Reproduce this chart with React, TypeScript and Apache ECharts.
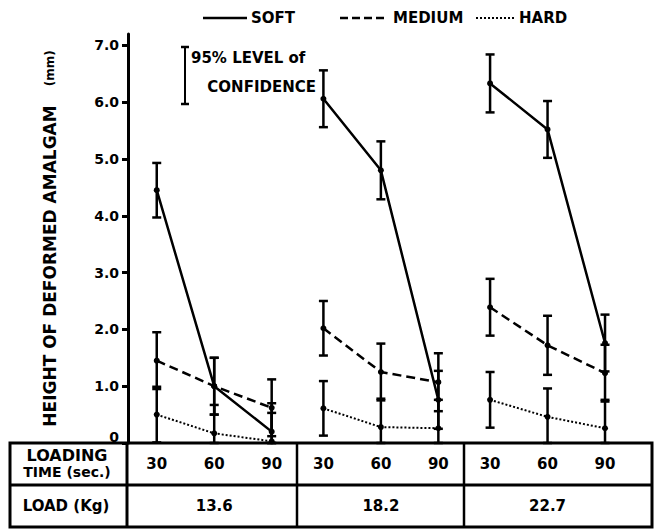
import React, { useEffect, useRef } from "react";
import * as echarts from "echarts";

// ---- data ----
const LOADS = ["13.6", "18.2", "22.7"];
const TIMES = [30, 60, 90];
const Y_TICKS = [0, 1, 2, 3, 4, 5, 6, 7];

// mean height (mm), ordered 13.6:30,60,90 | 18.2:30,60,90 | 22.7:30,60,90
const SOFT = [4.45, 1.0, 0.2, 6.06, 4.8, 0.76, 6.33, 5.52, 1.76];
const MEDIUM = [1.45, 1.0, 0.62, 2.02, 1.25, 1.07, 2.39, 1.72, 1.23];
const HARD = [0.5, 0.17, 0.03, 0.61, 0.28, 0.26, 0.76, 0.46, 0.26];

// half-width of 95% confidence interval (mm)
const SOFT_CI = [0.48, 0.5, 0.5, 0.5, 0.51, 0.51, 0.51, 0.5, 0.5];
const MEDIUM_CI = [0.5, 0.5, 0.5, 0.48, 0.5, 0.51, 0.5, 0.52, 0.5];
const HARD_CI = [0.49, 0.5, 0.5, 0.48, 0.5, 0.5, 0.49, 0.5, 0.5];

const SERIES_NAMES = ["SOFT", "MEDIUM", "HARD"];

// layout
const GROUP_SPACING = 87;
const FONT = '"DejaVu Sans", Verdana, sans-serif';
const INK = "#000";

const xOf = (g: number, t: number) => g * GROUP_SPACING + TIMES[t];

function lineData(vals: number[]) {
  const out: any[] = [];
  for (let g = 0; g < LOADS.length; g++) {
    for (let t = 0; t < TIMES.length; t++) out.push([xOf(g, t), vals[g * 3 + t]]);
    if (g < LOADS.length - 1) out.push([xOf(g, 2) + 5, "-"]);
  }
  return out;
}

function errData(vals: number[], ci: number[]) {
  const out: any[] = [];
  for (let g = 0; g < LOADS.length; g++)
    for (let t = 0; t < TIMES.length; t++) {
      const i = g * 3 + t;
      out.push([xOf(g, t), Math.max(0, vals[i] - ci[i]), vals[i] + ci[i]]);
    }
  return out;
}

const timeLabelValues: number[] = [];
const timeLabelMap: Record<string, string> = {};
LOADS.forEach((_, g) =>
  TIMES.forEach((tm, t) => {
    timeLabelValues.push(xOf(g, t));
    timeLabelMap[String(xOf(g, t))] = String(tm);
  })
);
const loadLabelValues = LOADS.map((_, g) => xOf(g, 1));
const loadLabelMap: Record<string, string> = {};
LOADS.forEach((l, g) => (loadLabelMap[String(xOf(g, 1))] = l));

function errorBarRender(params: any, api: any) {
  const x = api.value(0);
  const lo = api.coord([x, api.value(1)]);
  const hi = api.coord([x, api.value(2)]);
  const cap = 4.5;
  const style = { stroke: INK, lineWidth: 2.5 };
  return {
    type: "group",
    children: [
      { type: "line", shape: { x1: lo[0], y1: lo[1], x2: hi[0], y2: hi[1] }, style },
      { type: "line", shape: { x1: hi[0] - cap, y1: hi[1], x2: hi[0] + cap, y2: hi[1] }, style },
      { type: "line", shape: { x1: lo[0] - cap, y1: lo[1], x2: lo[0] + cap, y2: lo[1] }, style },
    ],
  };
}

function txt(text: string, x: number, y: number, size: number, align = "left") {
  return {
    type: "text",
    z: 100,
    style: {
      text,
      x,
      y,
      font: `bold ${size}px ${FONT}`,
      fill: INK,
      textAlign: align,
      align,
      textVerticalAlign: "middle",
      verticalAlign: "middle",
    },
  };
}

function ln(x1: number, y1: number, x2: number, y2: number, w: number, dash?: number[]) {
  return {
    type: "line",
    z: 100,
    shape: { x1, y1, x2, y2 },
    style: { stroke: INK, lineWidth: w, lineDash: dash },
  };
}

export default function App() {
  const ref = useRef<HTMLDivElement>(null);

  useEffect(() => {
    document.body.style.margin = "0";
    const chart = echarts.init(ref.current!, null, { renderer: "svg" });

    const lineStyles = [
      { type: "solid", width: 2.5 },
      { type: [9, 5], width: 2.5 },
      { type: [2, 2], width: 2 },
    ];
    const vals = [SOFT, MEDIUM, HARD];
    const cis = [SOFT_CI, MEDIUM_CI, HARD_CI];

    const series: any[] = [];
    vals.forEach((v, i) => {
      series.push({
        name: SERIES_NAMES[i] + " CI",
        type: "custom",
        xAxisIndex: 0,
        yAxisIndex: 0,
        renderItem: errorBarRender,
        encode: { x: 0, y: [1, 2] },
        data: errData(v, cis[i]),
        z: 2,
      });
      series.push({
        name: SERIES_NAMES[i],
        type: "line",
        xAxisIndex: 0,
        yAxisIndex: 0,
        data: lineData(v),
        connectNulls: false,
        symbol: "circle",
        symbolSize: 6,
        itemStyle: { color: INK },
        lineStyle: { color: INK, ...lineStyles[i] },
        z: 3,
      });
    });

    const graphic: any[] = [
      // legend
      ln(203, 18, 247, 18, 2.5),
      txt("SOFT", 251, 18, 15),
      ln(340, 18, 388, 18, 2.5, [8, 4]),
      txt("MEDIUM", 393, 18, 15),
      ln(476, 18, 515, 18, 2, [2, 2]),
      txt("HARD", 519, 18, 15),
      // 95% confidence key
      ln(185, 47, 185, 104, 2),
      ln(181, 47, 189, 47, 2.5),
      ln(181, 104, 189, 104, 2.5),
      txt("95% LEVEL of", 191, 58, 15),
      txt("CONFIDENCE", 316, 87, 15, "right"),
      // table
      {
        type: "rect",
        z: 100,
        shape: { x: 10, y: 443, width: 642, height: 84 },
        style: { fill: "none", stroke: INK, lineWidth: 3 },
      },
      ln(10, 485, 652, 485, 3),
      ln(127, 443, 127, 527, 3),
      ln(297, 443, 297, 527, 2.5),
      ln(464, 443, 464, 527, 2.5),
      txt("LOADING", 67, 455, 16, "center"),
      txt("TIME (sec.)", 67, 472, 14, "center"),
      txt("LOAD (Kg)", 66, 506, 15, "center"),
    ];

    chart.setOption({
      animation: false,
      backgroundColor: "#fff",
      textStyle: { fontFamily: FONT },
      grid: { left: 128, right: 5, top: 34, bottom: 86, containLabel: false },
      xAxis: [
        {
          type: "value",
          min: 15,
          max: 288,
          position: "bottom",
          axisLine: { show: false },
          axisTick: { show: false },
          splitLine: { show: false },
          axisLabel: {
            customValues: timeLabelValues,
            formatter: (v: number) => timeLabelMap[String(v)] ?? "",
            color: INK,
            fontWeight: "bold",
            fontSize: 15,
            fontFamily: FONT,
            margin: 13,
          },
        },
        {
          type: "value",
          min: 15,
          max: 288,
          position: "bottom",
          offset: 42,
          axisLine: { show: false },
          axisTick: { show: false },
          splitLine: { show: false },
          axisLabel: {
            customValues: loadLabelValues,
            formatter: (v: number) => loadLabelMap[String(v)] ?? "",
            color: INK,
            fontWeight: "bold",
            fontSize: 15,
            fontFamily: FONT,
            margin: 13,
          },
        },
      ],
      yAxis: {
        type: "value",
        min: 0,
        max: 7.2,
        name: "{a|HEIGHT OF DEFORMED AMALGAM}     {b|(mm)}",
        nameLocation: "middle",
        nameGap: 70,
        nameRotate: 90,
        nameTextStyle: {
          rich: {
            a: { fontSize: 17, fontWeight: "bold", color: INK, fontFamily: FONT },
            b: { fontSize: 12, fontWeight: "bold", color: INK, fontFamily: FONT },
          },
        },
        axisLine: { show: true, lineStyle: { color: INK, width: 3 } },
        axisTick: {
          show: true,
          customValues: Y_TICKS,
          length: 6,
          lineStyle: { color: INK, width: 3 },
        },
        splitLine: { show: false },
        axisLabel: {
          customValues: Y_TICKS,
          formatter: (v: number) => (v === 0 ? "{z|0}" : v.toFixed(1)),
          color: INK,
          fontWeight: "bold",
          fontSize: 14,
          fontFamily: FONT,
          margin: 9,
          rich: {
            z: {
              fontSize: 14,
              fontWeight: "bold",
              color: INK,
              fontFamily: FONT,
              padding: [0, 0, 12, 0],
            },
          },
        },
      },
      series,
      graphic,
    });

    return () => chart.dispose();
  }, []);

  return <div ref={ref} style={{ width: 656, height: 529 }} />;
}
